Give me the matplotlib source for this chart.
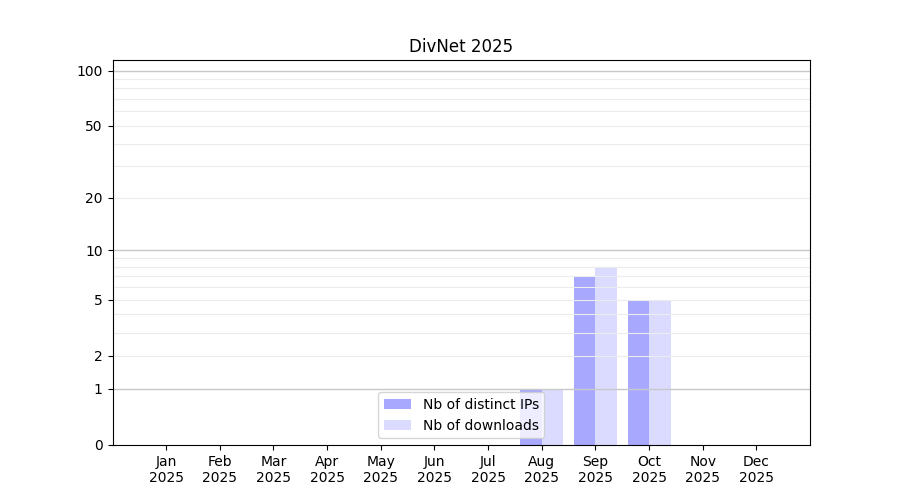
import matplotlib
matplotlib.use("Agg")
import matplotlib.pyplot as plt
import numpy as np

months = ["Jan", "Feb", "Mar", "Apr", "May", "Jun", "Jul", "Aug", "Sep", "Oct", "Nov", "Dec"]
year = "2025"
distinct_ips = [0, 0, 0, 0, 0, 0, 0, 1, 7, 5, 0, 0]
downloads = [0, 0, 0, 0, 0, 0, 0, 1, 8, 5, 0, 0]

y_ticks = [0, 1, 2, 5, 10, 20, 50, 100]
major_grid = [1, 10, 100]
minor_grid = [2, 3, 4, 5, 6, 7, 8, 9, 20, 30, 40, 50, 60, 70, 80, 90]


def fwd(y):
    return np.log10(1 + np.maximum(y, -0.999999))


def inv(y):
    return 10 ** y - 1


def main():
    fig, ax = plt.subplots(figsize=(9, 5), dpi=100)
    x = np.arange(len(months))
    w = 0.4

    ax.set_yscale("function", functions=(fwd, inv))

    for v in minor_grid:
        ax.axhline(v, color="#ececec", linewidth=0.8, zorder=1.5)
    for v in major_grid:
        ax.axhline(v, color="#c8c8c8", linewidth=1.0, zorder=1.5)

    ax.bar(x - w / 2, distinct_ips, width=w, color="blue", alpha=0.34, label="Nb of distinct IPs")
    ax.bar(x + w / 2, downloads, width=w, color="blue", alpha=0.14, label="Nb of downloads")

    ax.set_xticks(x)
    ax.set_xticklabels([m + "\n" + year for m in months])
    ax.set_yticks(y_ticks)
    ax.set_yticklabels([str(t) for t in y_ticks])
    ax.yaxis.set_minor_locator(matplotlib.ticker.NullLocator())
    ax.set_xlim(-1, 12)
    ax.set_ylim(0, 114)
    ax.set_title("DivNet 2025")
    ax.legend(loc="lower center")

    fig.savefig("out.png")


if __name__ == "__main__":
    main()
